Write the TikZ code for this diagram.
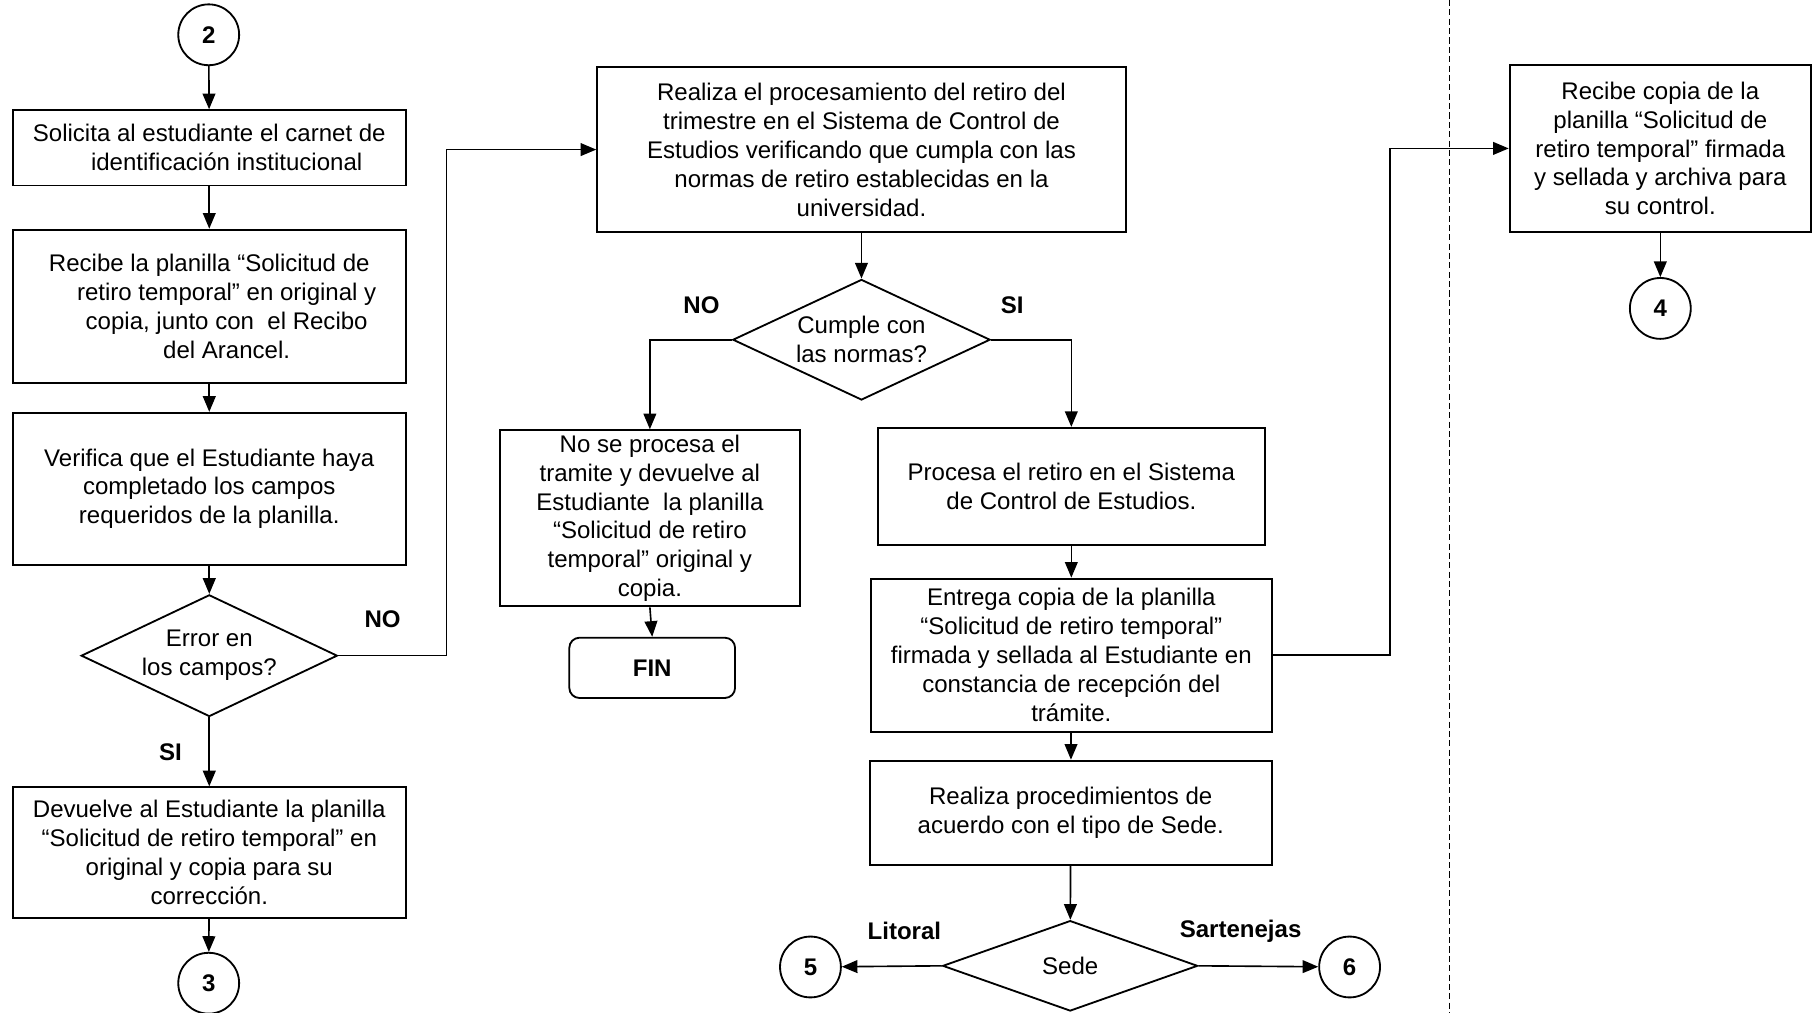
\documentclass[tikz,border=0pt]{standalone}
\usepackage{fontspec}
\setmainfont{Liberation Sans}
\usetikzlibrary{arrows.meta,calc,positioning,shapes.geometric}

\newcommand{\letra}{\fontsize{11.8}{14.2}\selectfont}

\tikzset{
	caja/.style={draw, line width=0.9pt, align=center, inner sep=1pt},
	decision/.style={draw, diamond, line width=0.9pt, align=center, inner sep=0pt},
	conector/.style={draw, circle, line width=0.9pt, minimum size=1.05cm, inner sep=0pt, font=\letra\bfseries},
	fincaja/.style={draw, rounded corners=5pt, line width=0.9pt, font=\letra\bfseries},
	etiqueta/.style={font=\letra\bfseries},
	flecha/.style={line width=0.8pt, -{Triangle[length=0.27cm,width=0.22cm]}}
}

\begin{document}
\begin{tikzpicture}[x=0.02cm, y=-0.02cm, font=\letra]
	\useasboundingbox (0,0) rectangle (1568,873);

	% Left column
	\node [conector] (c2) at (180,30) {2};
	\node [caja, minimum width=6.78cm, minimum height=1.30cm] (b1) at (180.5,127.5)
		{Solicita al estudiante el carnet de\\ \hspace*{0.6cm}identificación institucional};
	\node [caja, minimum width=6.78cm, minimum height=2.64cm] (b2) at (180.5,264)
		{Recibe la planilla “Solicitud de\\ \hspace*{0.6cm}retiro temporal” en original y\\ \hspace*{0.6cm}copia, junto con\ \ el Recibo\\ \hspace*{0.6cm}del Arancel.};
	\node [caja, minimum width=6.78cm, minimum height=2.62cm] (b3) at (180.5,421.5)
		{Verifica que el Estudiante haya\\ completado los campos\\ requeridos de la planilla.};
	\node [decision, shape aspect=2.1, minimum width=4.42cm, minimum height=2.10cm] (d1) at (180.5,565.5)
		{Error en\\ los campos?};
	\node [caja, minimum width=6.78cm, minimum height=2.26cm] (b4) at (180.5,735.5)
		{Devuelve al Estudiante la planilla\\ “Solicitud de retiro temporal” en\\ original y copia para su\\ corrección.};
	\node [conector] (c3) at (180,848) {3};

	% Middle column
	\node [caja, minimum width=9.12cm, minimum height=2.84cm] (b5) at (743,129)
		{Realiza el procesamiento del retiro del\\ trimestre en el Sistema de Control de\\ Estudios verificando que cumpla con las\\ normas de retiro establecidas en la\\ universidad.};
	\node [decision, shape aspect=2.13, minimum width=4.44cm, minimum height=2.08cm] (d2) at (743,293)
		{Cumple con\\ las normas?};
	\node [caja, minimum width=5.18cm, minimum height=3.04cm] (b6) at (560.5,447)
		{No se procesa el\\ tramite y devuelve al\\ Estudiante\ \ la planilla\\ “Solicitud de retiro\\ temporal” original y\\ copia.};
	\node [fincaja, minimum width=2.86cm, minimum height=1.04cm] (fin) at (562.5,576) {FIN};
	\node [caja, minimum width=6.68cm, minimum height=2.02cm] (b7) at (924,419.5)
		{Procesa el retiro en el Sistema\\ de Control de Estudios.};
	\node [caja, minimum width=6.92cm, minimum height=2.64cm] (b8) at (924,565)
		{Entrega copia de la planilla\\ “Solicitud de retiro temporal”\\ firmada y sellada al Estudiante en\\ constancia de recepción del\\ trámite.};
	\node [caja, minimum width=6.94cm, minimum height=1.80cm] (b9) at (923.5,701)
		{Realiza procedimientos de\\ acuerdo con el tipo de Sede.};
	\node [decision, shape aspect=2.82, minimum width=4.40cm, minimum height=1.56cm] (d3) at (923,833) {Sede};
	\node [conector] (c5) at (699,834) {5};
	\node [conector] (c6) at (1164,834) {6};

	% Right column
	\node [caja, minimum width=5.20cm, minimum height=2.88cm] (b10) at (1432,128)
		{Recibe copia de la\\ planilla “Solicitud de\\ retiro temporal” firmada\\ y sellada y archiva para\\ su control.};
	\node [conector] (c4) at (1432,266) {4};

	% Separator
	\draw [line width=0.6pt, dash pattern=on 3pt off 1.6pt] (1250,0) -- (1250,873);

	% Branch labels
	\node [etiqueta] (no1) at (330,534) {NO};
	\node [etiqueta] (si1) at (147,649) {SI};
	\node [etiqueta] (no2) at (605,263) {NO};
	\node [etiqueta] (si2) at (873,263) {SI};
	\node [etiqueta] (lit) at (780,803) {Litoral};
	\node [etiqueta] (sar) at (1070,803) {Sartenejas};

	% Bend points
	\coordinate (k1) at (385,0);
	\coordinate (k2) at (1199,0);

	% Connectors
	\draw [flecha] (c2) -- (b1);
	\draw [flecha] (b1) -- (b2);
	\draw [flecha] (b2) -- (b3);
	\draw [flecha] (b3) -- (d1);
	\draw [flecha] (d1) -- (b4);
	\draw [flecha] (b4) -- (c3);
	\draw [flecha] (d1.east) -| (k1 |- b5.west) -- (b5.west);
	\draw [flecha] (b5) -- (d2);
	\draw [flecha] (d2.west) -| (b6.north);
	\draw [flecha] (d2.east) -| (b7.north);
	\draw [flecha] (b6.south) -- (fin.north);
	\draw [flecha] (b7) -- (b8);
	\draw [flecha] (b8) -- (b9);
	\draw [flecha] (b9) -- (d3);
	\draw [flecha] (d3.west) -- (c5);
	\draw [flecha] (d3.east) -- (c6);
	\draw [flecha] (b8.east) -| (k2 |- b10.west) -- (b10.west);
	\draw [flecha] (b10) -- (c4);
\end{tikzpicture}
\end{document}
